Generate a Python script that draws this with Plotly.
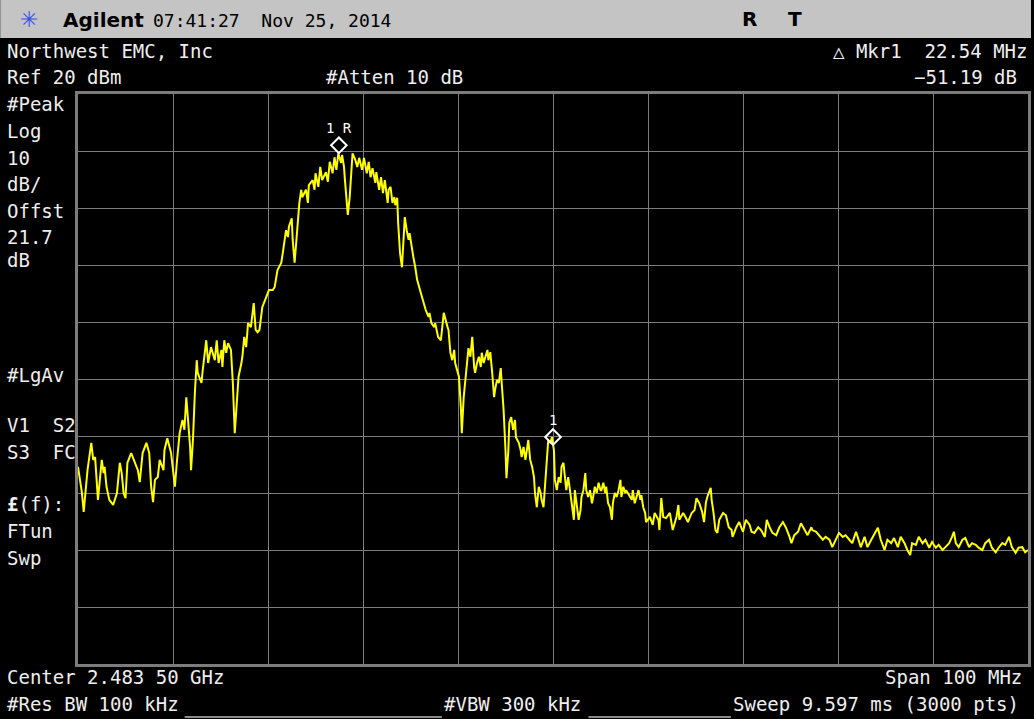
import plotly.graph_objects as go

# ---------------- instrument settings ----------------
center_mhz = 2483.5
span_mhz = 100.0
ref_level_dbm = 20.0
db_per_div = 10.0

# ---------------- trace (offset from span start, MHz) / level (dBm) ----------------
offset_mhz = [
    0.0, 0.2, 0.4, 0.6, 0.8, 1.0, 1.4, 1.6, 1.8, 2.1,
    2.5, 2.7, 2.8, 3.0, 3.3, 3.7, 4.1, 4.4, 4.6, 4.8,
    5.0, 5.2, 5.6, 6.0, 6.3, 6.5, 6.8, 7.2, 7.5, 7.7,
    7.9, 8.1, 8.4, 8.6, 9.0, 9.1, 9.4, 9.8, 10.2, 10.4,
    10.7, 11.0, 11.2, 11.4, 11.6, 11.8, 11.9, 12.1, 12.3, 12.5,
    12.6, 13.0, 13.1, 13.5, 13.7, 14.0, 14.4, 14.6, 14.8, 15.1,
    15.2, 15.4, 15.6, 15.8, 16.1, 16.3, 16.5, 16.7, 16.9, 17.2,
    17.3, 17.5, 17.7, 17.9, 18.2, 18.5, 18.7, 18.9, 19.1, 19.4,
    19.8, 20.1, 20.5, 20.7, 21.0, 21.4, 21.6, 21.9, 22.1, 22.2,
    22.5, 22.6, 22.8, 22.9, 23.1, 23.3, 23.5, 23.6, 24.0, 24.2,
    24.3, 24.7, 24.9, 25.0, 25.3, 25.5, 25.7, 26.1, 26.3, 26.5,
    26.8, 27.0, 27.2, 27.4, 27.7, 27.8, 28.0, 28.1, 28.3, 28.4,
    28.6, 28.7, 28.9, 29.2, 29.4, 29.6, 29.9, 30.1, 30.4, 30.6,
    30.8, 31.0, 31.3, 31.4, 31.7, 31.9, 32.1, 32.3, 32.6, 32.7,
    32.9, 33.1, 33.3, 33.4, 33.6, 33.7, 33.9, 34.1, 34.2, 34.4,
    34.6, 34.8, 34.9, 35.1, 35.3, 35.5, 35.7, 36.0, 36.2, 36.4,
    36.6, 36.9, 37.0, 37.2, 37.5, 37.6, 37.9, 38.2, 38.5, 38.9,
    39.0, 39.2, 39.4, 39.6, 39.7, 39.9, 40.1, 40.3, 40.4, 40.6,
    40.8, 41.0, 41.1, 41.3, 41.5, 41.7, 41.8, 42.0, 42.2, 42.4,
    42.5, 42.7, 42.9, 43.1, 43.2, 43.4, 43.6, 43.8, 43.9, 44.1,
    44.3, 44.5, 44.6, 44.8, 45.0, 45.1, 45.3, 45.4, 45.6, 45.8,
    46.0, 46.1, 46.4, 46.6, 46.7, 46.9, 47.1, 47.3, 47.4, 47.6,
    47.8, 48.0, 48.1, 48.3, 48.5, 48.7, 48.8, 49.0, 49.2, 49.3,
    49.5, 49.7, 49.9, 50.1, 50.2, 50.4, 50.6, 50.8, 50.9, 51.1,
    51.3, 51.4, 51.6, 51.8, 52.0, 52.2, 52.3, 52.5, 52.7, 52.9,
    53.0, 53.2, 53.4, 53.5, 53.7, 53.9, 54.1, 54.3, 54.4, 54.6,
    54.8, 55.0, 55.1, 55.3, 55.5, 55.6, 55.8, 56.0, 56.2, 56.3,
    56.5, 56.7, 56.9, 57.1, 57.2, 57.4, 57.6, 57.7, 57.9, 58.3,
    58.4, 58.6, 59.0, 59.2, 59.3, 59.5, 59.7, 59.8, 60.2, 60.5,
    60.7, 61.1, 61.2, 61.4, 61.6, 61.9, 62.3, 62.5, 62.6, 63.0,
    63.2, 63.3, 63.7, 64.0, 64.2, 64.6, 64.9, 65.1, 65.4, 65.7,
    65.9, 66.1, 66.3, 66.6, 66.7, 66.9, 67.1, 67.3, 67.5, 67.9,
    68.2, 68.5, 68.8, 68.9, 69.3, 69.6, 70.0, 70.3, 70.7, 70.9,
    71.2, 71.6, 71.9, 72.3, 72.5, 72.8, 73.1, 73.5, 73.8, 74.2,
    74.5, 74.9, 75.1, 75.4, 75.8, 76.1, 76.5, 76.8, 77.2, 77.3,
    77.7, 78.0, 78.4, 78.7, 79.1, 79.4, 79.8, 80.1, 80.5, 80.8,
    81.2, 81.5, 81.9, 82.2, 82.4, 82.8, 83.1, 83.5, 83.8, 84.2,
    84.5, 84.9, 85.2, 85.6, 85.9, 86.3, 86.6, 87.0, 87.3, 87.6,
    87.8, 88.2, 88.5, 88.9, 89.2, 89.6, 89.9, 90.3, 90.6, 91.0,
    91.3, 91.7, 92.0, 92.2, 92.4, 92.7, 93.1, 93.4, 93.8, 94.1,
    94.5, 94.8, 95.2, 95.5, 95.9, 96.2, 96.6, 96.9, 97.3, 97.6,
    98.0, 98.3, 98.7, 99.0, 99.4, 99.7, 100.0,
]

level_dbm = [
    -45.4, -47.7, -49.8, -53.3, -49.5, -46.0, -41.2, -44.2, -43.7, -51.2,
    -44.2, -46.5, -45.4, -48.9, -51.2, -52.1, -50.0, -44.7, -46.5, -50.0,
    -50.9, -44.7, -43.0, -44.7, -46.0, -48.1, -43.0, -41.2, -43.0, -48.9,
    -51.6, -47.7, -47.2, -44.2, -46.0, -42.5, -40.4, -43.0, -48.9, -44.7,
    -39.5, -37.2, -38.9, -33.2, -37.2, -41.9, -46.0, -40.7, -32.5, -26.7,
    -28.9, -30.7, -28.9, -23.2, -27.2, -24.4, -26.7, -23.2, -27.2, -24.9,
    -27.9, -23.2, -25.4, -23.7, -24.9, -30.7, -39.5, -33.7, -29.6, -27.2,
    -26.1, -22.6, -24.4, -20.2, -20.9, -16.7, -21.4, -21.8, -21.4, -17.4,
    -15.6, -14.4, -14.4, -13.9, -10.9, -9.6, -7.4, -3.9, -5.1, -3.3,
    -1.8, -5.6, -9.6, -6.8, -3.3, 0.9, 3.2, 1.9, 3.2, 0.9,
    4.0, 4.9, 3.2, 6.1, 3.7, 7.2, 4.9, 6.3, 4.6, 8.1,
    6.1, 8.9, 6.7, 9.6, 7.9, 9.3, 7.2, 4.9, 1.4, -1.2,
    1.9, 4.9, 9.6, 8.4, 7.2, 8.8, 6.7, 8.8, 6.1, 8.1,
    5.4, 7.0, 4.4, 6.3, 3.2, 5.4, 2.6, 4.9, 0.9, 3.2,
    3.7, 0.9, 1.9, 0.5, 1.8, -2.6, -7.9, -10.4, -6.8, -1.6,
    -3.9, -5.6, -4.4, -6.8, -8.6, -10.4, -12.6, -14.4, -15.6, -16.7,
    -17.9, -19.1, -18.4, -20.2, -20.9, -20.2, -22.6, -23.2, -18.4, -20.9,
    -21.4, -25.4, -26.7, -24.9, -27.2, -28.4, -29.6, -34.9, -39.5, -33.2,
    -30.2, -26.1, -24.6, -26.1, -22.6, -27.9, -28.9, -27.2, -26.1, -27.9,
    -25.4, -27.2, -26.1, -24.9, -26.7, -25.3, -28.9, -33.2, -31.9, -30.2,
    -30.7, -28.1, -30.7, -35.4, -42.5, -47.4, -42.5, -37.7, -36.7, -38.9,
    -37.2, -40.2, -41.2, -42.5, -43.7, -41.9, -44.2, -41.9, -40.7, -44.2,
    -45.4, -47.2, -50.0, -52.5, -48.9, -50.0, -51.2, -52.5, -48.2, -45.4,
    -40.7, -41.2, -40.2, -42.5, -47.7, -49.5, -47.2, -48.2, -45.4, -44.7,
    -48.2, -49.5, -47.2, -50.0, -53.0, -54.7, -49.5, -51.8, -54.7, -53.0,
    -50.7, -49.5, -46.5, -49.5, -50.7, -49.5, -51.8, -50.0, -48.9, -50.0,
    -48.2, -49.5, -49.5, -48.2, -50.0, -48.9, -51.8, -52.5, -54.7, -51.8,
    -50.0, -50.7, -49.5, -47.7, -50.7, -48.9, -50.0, -49.5, -50.0, -51.2,
    -49.5, -51.8, -49.5, -51.2, -50.4, -52.5, -53.5, -55.1, -54.2, -55.6,
    -53.5, -54.7, -56.5, -50.9, -54.2, -54.4, -53.5, -55.3, -56.5, -54.2,
    -52.1, -54.7, -53.5, -54.4, -55.1, -53.5, -53.0, -50.9, -51.8, -53.3,
    -55.1, -51.6, -50.4, -49.1, -51.2, -53.5, -56.5, -57.0, -54.7, -53.5,
    -53.9, -56.0, -56.5, -57.7, -56.0, -55.1, -56.8, -54.7, -55.6, -56.8,
    -57.0, -56.0, -56.5, -57.7, -54.7, -56.0, -57.0, -57.4, -56.1, -55.1,
    -56.0, -57.7, -58.8, -57.4, -56.8, -55.3, -56.5, -57.4, -56.0, -56.5,
    -56.8, -57.4, -58.2, -57.7, -58.2, -59.5, -58.2, -57.0, -57.7, -57.4,
    -58.2, -58.8, -56.8, -58.2, -59.5, -57.7, -59.5, -58.2, -57.4, -56.1,
    -58.2, -60.0, -58.2, -58.8, -57.9, -59.5, -57.7, -58.8, -60.0, -60.9,
    -58.8, -59.1, -57.7, -58.8, -58.2, -59.6, -58.6, -59.6, -59.1, -60.0,
    -59.5, -58.8, -57.7, -56.8, -58.8, -59.5, -58.2, -57.9, -59.5, -58.8,
    -59.1, -59.6, -60.0, -58.8, -58.2, -59.6, -60.4, -59.6, -58.8, -59.1,
    -57.7, -59.5, -60.5, -59.6, -59.5, -60.4, -60.0,
]
assert len(offset_mhz) == len(level_dbm)

# ---------------- markers ----------------
mkr_ref_mhz = 2460.96
mkr_ref_dbm = 11.0
mkr_delta_mhz = 22.54
mkr_delta_db = -51.19

start_mhz = center_mhz - span_mhz / 2
freq_mhz = [start_mhz + o for o in offset_mhz]
mkr_freqs = [mkr_ref_mhz, mkr_ref_mhz + mkr_delta_mhz]
mkr_levels = [mkr_ref_dbm, mkr_ref_dbm + mkr_delta_db]
mkr_labels = ["1 R", "1"]

# ---------------- layout geometry (pixels) ----------------
W, H = 1034, 719
L, R, T, B = 78, 3, 94, 55
PW, PH = W - L - R, H - T - B

def px(x):
    return (x - L) / PW

def py(y):
    return (H - B - y) / PH

MONO = "DejaVu Sans Mono"
SANS = "DejaVu Sans"
TXT = "#EEEEEE"
GRID = "#7C7C7C"

fig = go.Figure()
fig.add_trace(go.Scatter(
    x=freq_mhz, y=level_dbm, mode="lines",
    line=dict(color="#FFFF00", width=2), hoverinfo="skip",
))
fig.add_trace(go.Scatter(
    x=mkr_freqs, y=mkr_levels, mode="markers",
    marker=dict(symbol="diamond-open", size=12, color="#FFFFFF",
                line=dict(color="#FFFFFF", width=2)),
    hoverinfo="skip",
))

ann = []

def txt(x, y, s, anchor="left", size=19, color=TXT, family=MONO):
    ann.append(dict(x=px(x), y=py(y), xref="paper", yref="paper", text=s,
                    showarrow=False, xanchor=anchor, yanchor="middle",
                    font=dict(family=family, size=size, color=color)))

# marker labels
for f, lv, lab in zip(mkr_freqs, mkr_levels, mkr_labels):
    ann.append(dict(x=f, y=lv, xref="x", yref="y", text=lab, showarrow=False,
                    yshift=17, font=dict(family=MONO, size=14, color="#FFFFFF")))

# header bar text
txt(18, 19, "✳", size=22, color="#3A52E6", family=SANS)
txt(61, 20, "<b>Agilent</b>", size=20, color="#000000", family=SANS)
txt(151, 20, "07:41:27  Nov 25, 2014", size=18, color="#000000")
txt(742, 19, "<b>R</b>", size=20, color="#000000", family=SANS)
txt(788, 19, "<b>T</b>", size=20, color="#000000", family=SANS)

# top info rows
txt(5, 51, "Northwest EMC, Inc")
txt(1032, 51, "△ Mkr1  22.54 MHz", anchor="right")
txt(5, 77, "Ref 20 dBm")
txt(325, 77, "#Atten 10 dB")
txt(1022, 77, "−51.19 dB", anchor="right")

# left column
for yy, s in [(104, "#Peak"), (131, "Log"), (158, "10"), (184, "dB/"),
              (211, "Offst"), (237, "21.7"), (260, "dB"), (375, "#LgAv"),
              (425, "V1  S2"), (452, "S3  FC"), (504, "<b>£</b>(f):"),
              (531, "FTun"), (558, "Swp")]:
    txt(5, yy, s)

# bottom rows
txt(5, 677, "Center 2.483 50 GHz")
txt(1027, 677, "Span 100 MHz", anchor="right")
txt(5, 704, "#Res BW 100 kHz")
txt(443, 704, "#VBW 300 kHz")
txt(1024, 704, "Sweep 9.597 ms (3000 pts)", anchor="right")

shapes = [
    dict(type="rect", xref="paper", yref="paper", x0=px(0), x1=px(W),
         y0=py(38), y1=py(0), fillcolor="#C4C4C4", line=dict(width=0),
         layer="below"),
    dict(type="line", xref="paper", yref="paper", x0=px(185), x1=px(443),
         y0=py(717), y1=py(717), line=dict(color="#8A8A8A", width=2)),
    dict(type="line", xref="paper", yref="paper", x0=px(590), x1=px(733),
         y0=py(717), y1=py(717), line=dict(color="#8A8A8A", width=2)),
]

axis_common = dict(showgrid=True, gridcolor=GRID, gridwidth=1.2,
                   zeroline=False, showticklabels=False, ticks="",
                   showline=True, mirror=True, linecolor=GRID, linewidth=2.5,
                   fixedrange=True)

fig.update_layout(
    width=W, height=H,
    margin=dict(l=L, r=R, t=T, b=B, pad=0),
    paper_bgcolor="#000000", plot_bgcolor="#000000",
    showlegend=False,
    xaxis=dict(range=[start_mhz, start_mhz + span_mhz], tick0=start_mhz,
               dtick=span_mhz / 10, **axis_common),
    yaxis=dict(range=[ref_level_dbm - 10 * db_per_div, ref_level_dbm],
               tick0=ref_level_dbm, dtick=db_per_div, **axis_common),
    annotations=ann,
    shapes=shapes,
)

fig.write_html(
    "out.html",
    config={"displayModeBar": False},
    post_script="document.body.style.margin='0';document.body.style.padding='0';"
                "document.body.style.background='#000';",
)
